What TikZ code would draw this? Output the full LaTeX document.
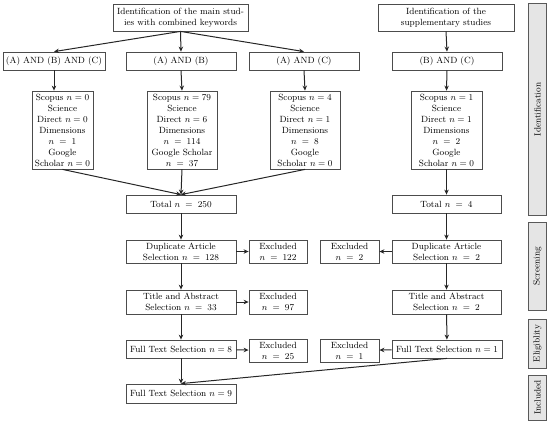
\documentclass[tikz,border=0pt]{standalone}
\usetikzlibrary{arrows.meta}
\begin{document}
\begin{tikzpicture}[x=1pt,y=-1pt,
  box/.style={draw=black!70,line width=0.8pt,fill=white,inner sep=0pt,align=center,
    font=\fontsize{9}{11}\selectfont},
  side/.style={draw=black!65,line width=0.8pt,fill=black!10,inner sep=0pt,
    minimum width=18pt,font=\fontsize{9}{11}\selectfont},
  arr/.style={draw=black!85,line width=1pt,-{Stealth[length=5pt,width=4.5pt]}}]
\useasboundingbox (0,0) rectangle (550,424);
% top row
\node[box,minimum width=135pt,minimum height=27pt] (top) at (180.5,17.5) {Identification of the main stud-\\ies with combined keywords};
\node[box,minimum width=136pt,minimum height=27pt] (supp) at (446,17.5) {Identification of the\\supplementary studies};
% keyword row
\node[box,minimum width=102pt,minimum height=18pt] (k1) at (54,61) {(A) AND (B) AND (C)};
\node[box,minimum width=110pt,minimum height=18pt] (k2) at (181,61) {(A) AND (B)};
\node[box,minimum width=110pt,minimum height=18pt] (k3) at (304,61) {(A) AND (C)};
\node[box,minimum width=110pt,minimum height=18pt] (k4) at (447,61) {(B) AND (C)};
% database row
\node[box,minimum width=61pt,minimum height=78pt] (d1) at (62.5,130) {Scopus $n = 0$\\Science\\Direct $n = 0$\\Dimensions\\$n\;=\;1$\\Google\\Scholar $n = 0$};
\node[box,minimum width=70pt,minimum height=78pt] (d2) at (182,130) {Scopus $n = 79$\\Science\\Direct $n = 6$\\Dimensions\\$n\;=\;114$\\Google Scholar\\$n\;=\;37$};
\node[box,minimum width=70pt,minimum height=78pt] (d3) at (305,130) {Scopus $n = 4$\\Science\\Direct $n = 1$\\Dimensions\\$n\;=\;8$\\Google\\Scholar $n = 0$};
\node[box,minimum width=71pt,minimum height=78pt] (d4) at (446.5,130) {Scopus $n = 1$\\Science\\Direct $n = 1$\\Dimensions\\$n\;=\;2$\\Google\\Scholar $n = 0$};
% totals
\node[box,minimum width=110pt,minimum height=18pt] (t1) at (181,204) {Total $n\;=\;250$};
\node[box,minimum width=109pt,minimum height=18pt] (t2) at (446.5,204) {Total $n\;=\;4$};
% duplicates
\node[box,minimum width=110pt,minimum height=23pt] (u1) at (181,251.5) {Duplicate Article\\Selection $n\;=\;128$};
\node[box,minimum width=58pt,minimum height=23pt] (e1) at (278,251.5) {Excluded\\$n\;=\;122$};
\node[box,minimum width=59pt,minimum height=23pt] (e2) at (349.5,251.5) {Excluded\\$n\;=\;2$};
\node[box,minimum width=109pt,minimum height=23pt] (u2) at (446.5,251.5) {Duplicate Article\\Selection $n\;=\;2$};
% title and abstract
\node[box,minimum width=110pt,minimum height=24pt] (a1) at (181,302) {Title and Abstract\\Selection $n\;=\;33$};
\node[box,minimum width=58pt,minimum height=24pt] (e3) at (278,302) {Excluded\\$n\;=\;97$};
\node[box,minimum width=109pt,minimum height=24pt] (a2) at (446.5,302) {Title and Abstract\\Selection $n\;=\;2$};
% full text
\node[box,minimum width=110pt,minimum height=18pt] (f1) at (181,349) {Full Text Selection $n = 8$};
\node[box,minimum width=58pt,minimum height=23pt] (e4) at (278,350.5) {Excluded\\$n\;=\;25$};
\node[box,minimum width=59pt,minimum height=23pt] (e5) at (349.5,350.5) {Excluded\\$n\;=\;1$};
\node[box,minimum width=110pt,minimum height=18pt] (f2) at (447,349) {Full Text Selection $n = 1$};
\node[box,minimum width=110pt,minimum height=19pt] (f3) at (181,393.5) {Full Text Selection $n = 9$};
% side labels
\node[side,minimum height=212pt] (s1) at (537.5,109.5) {};
\node[rotate=90,font=\fontsize{9}{11}\selectfont] (s1t) at (s1.center) {Identification};
\node[side,minimum height=88pt] (s2) at (537.5,266) {};
\node[rotate=90,font=\fontsize{9}{11}\selectfont] (s2t) at (s2.center) {Screening};
\node[side,minimum height=49pt] (s3) at (537.5,343.5) {};
\node[rotate=90,font=\fontsize{9}{11}\selectfont] (s3t) at (s3.center) {Eligiblity};
\node[side,minimum height=45pt] (s4) at (537.5,397.5) {};
\node[rotate=90,font=\fontsize{9}{11}\selectfont] (s4t) at (s4.center) {Included};
% connectors
\draw[arr] (top.south) -- (k1.north);
\draw[arr] (top.south) -- (k2.north);
\draw[arr] (top.south) -- (k3.north);
\draw[arr] (supp.south) -- (k4.north);
\draw[arr] (k1.south) -- (k1.south |- d1.north);
\draw[arr] (k2.south) -- (d2.north);
\draw[arr] (k3.south) -- (d3.north);
\draw[arr] (k4.south) -- (d4.north);
\draw[arr] (d1.south) -- (t1.north);
\draw[arr] (d2.south) -- (t1.north);
\draw[arr] (d3.south) -- (t1.north);
\draw[arr] (d4.south) -- (t2.north);
\draw[arr] (t1) -- (u1);
\draw[arr] (t2) -- (u2);
\draw[arr] (u1) -- (e1);
\draw[arr] (u2) -- (e2);
\draw[arr] (u1) -- (a1);
\draw[arr] (u2) -- (a2);
\draw[arr] (a1) -- (e3);
\draw[arr] (a1) -- (f1);
\draw[arr] (a2) -- (f2);
\draw[arr] (f1) -- (e4);
\draw[arr] (f2) -- (e5);
\draw[arr] (f1) -- (f3);
\draw[arr] (f2.south) -- (f3.north);
\end{tikzpicture}
\end{document}
